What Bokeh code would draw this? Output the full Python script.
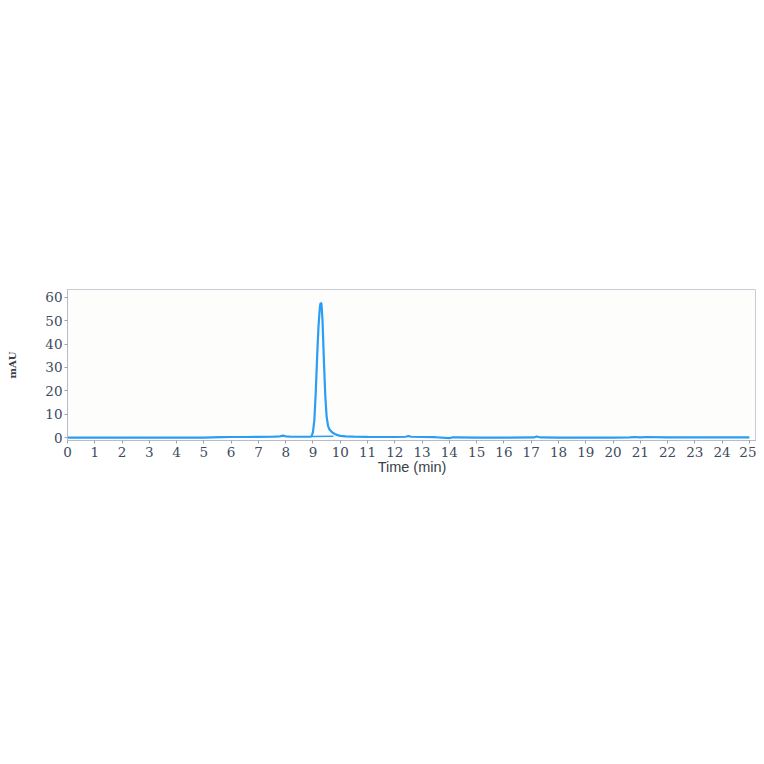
from bokeh.plotting import figure
from bokeh.models import Range1d, FixedTicker
from bokeh.embed import file_html
from bokeh.resources import INLINE

# Chromatogram trace (time in min, absorbance in mAU)
time_min = [0, 1, 2, 3, 4, 5, 5.3, 5.6, 6, 6.5, 7, 7.5, 7.8, 7.9, 8.0, 8.2, 8.5, 8.9,
            8.95, 9.0, 9.05, 9.1, 9.15, 9.2, 9.25, 9.28, 9.31, 9.35, 9.4, 9.45, 9.5,
            9.55, 9.6, 9.7, 9.8, 9.9, 10.0, 10.2, 10.5, 11, 11.5, 12, 12.4, 12.5, 12.6,
            13, 13.5, 14.0, 14.1, 14.3, 15, 16, 17.1, 17.2, 17.35, 18, 19, 20, 20.6,
            20.8, 21.0, 21.2, 22, 23, 24, 25]
mau = [0.0, 0.0, 0.0, 0.0, 0.0, 0.0, 0.1, 0.2, 0.3, 0.3, 0.35, 0.4, 0.6, 0.9, 0.6, 0.4, 0.4, 0.4,
       0.6, 2.5, 7.5, 19, 34, 47, 55.5, 57.6, 57.3, 50, 33, 18, 9,
       5.2, 3.6, 2.3, 1.6, 1.1, 0.8, 0.55, 0.45, 0.35, 0.3, 0.3, 0.4, 0.7, 0.4,
       0.3, 0.2, -0.2, 0.1, 0.1, 0.05, 0.05, 0.1, 0.5, 0.1, 0.05, 0.05, 0.0, 0.1,
       0.3, 0.1, 0.3, 0.15, 0.1, 0.1, 0.1]

# Integration baseline under the main peak
base_t = [8.95, 9.75]
base_v = [0.5, 0.6]

x_ticks = list(range(0, 26))
y_ticks = [0, 10, 20, 30, 40, 50, 60]

p = figure(width=756, height=748, output_backend="svg", toolbar_location=None,
           x_range=Range1d(0, 25.26), y_range=Range1d(-1.2, 63.3),
           min_border_left=67, min_border_right=0, min_border_top=289, min_border_bottom=308)

p.line(time_min, mau, line_color="#2a9df4", line_width=2.2)
p.line(base_t, base_v, line_color="#2a9df4", line_width=1.5)

p.background_fill_color = "#fdfdfb"
p.border_fill_color = "white"
p.outline_line_color = "#c8ccd4"
p.grid.visible = False

for ax in (p.xaxis[0], p.yaxis[0]):
    ax.axis_line_color = "#b8bcc8"
    ax.major_tick_line_color = "#9aa0ac"
    ax.major_tick_out = 3
    ax.major_tick_in = 0
    ax.minor_tick_line_color = None
    ax.major_label_text_font = "DejaVu Serif"
    ax.major_label_text_font_size = "13.5px"
    ax.major_label_text_color = "#3e4a5e"

p.xaxis.ticker = FixedTicker(ticks=x_ticks)
p.yaxis.ticker = FixedTicker(ticks=y_ticks)
p.xaxis.major_label_standoff = 3
p.yaxis.major_label_standoff = 2

p.xaxis.axis_label = "Time (min)"
p.xaxis.axis_label_text_font = "Liberation Sans"
p.xaxis.axis_label_text_font_style = "normal"
p.xaxis.axis_label_text_font_size = "14.5px"
p.xaxis.axis_label_text_color = "#3a3f4a"
p.xaxis.axis_label_standoff = -1

p.yaxis.axis_label = "mAU"
p.yaxis.axis_label_text_font = "DejaVu Serif"
p.yaxis.axis_label_text_font_style = "bold"
p.yaxis.axis_label_text_font_size = "10px"
p.yaxis.axis_label_text_color = "#3a3f4a"
p.yaxis.axis_label_standoff = 24

open("out.html", "w").write(file_html(p, INLINE))
